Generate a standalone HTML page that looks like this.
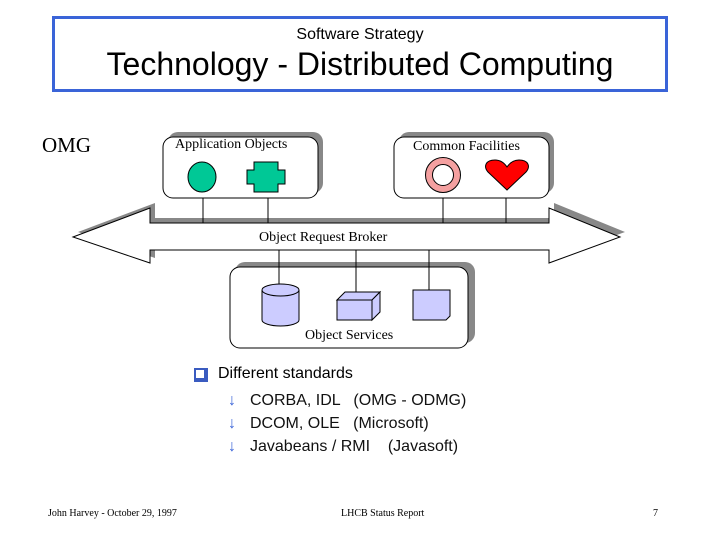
<!DOCTYPE html>
<html><head><style>
body{margin:0;width:720px;height:540px;background:#fff;position:relative;overflow:hidden;font-family:"Liberation Sans",sans-serif}
.a{position:absolute;white-space:nowrap}
.s{font-family:"Liberation Serif",serif}
</style></head><body>
<div class="a" style="left:52px;top:16px;width:610px;height:70px;border:3px solid #3a64d8"></div>
<div class="a" style="left:0;width:720px;text-align:center;top:26px;font-size:16px">Software Strategy</div>
<div class="a" style="left:0;width:720px;text-align:center;top:46px;font-size:32px">Technology - Distributed Computing</div>
<div class="a s" style="left:42px;top:133px;font-size:21px">OMG</div>
<svg class="a" style="left:0;top:0" width="720" height="540">
<g stroke="#000" stroke-width="1">
<rect x="168" y="132" width="155" height="61" rx="10" fill="#888" stroke="none"/>
<rect x="163" y="137" width="155" height="61" rx="10" fill="#fff"/>
<rect x="399" y="132" width="155" height="61" rx="10" fill="#888" stroke="none"/>
<rect x="394" y="137" width="155" height="61" rx="10" fill="#fff"/>
<polygon points="78,232 155,203 155,218 554,218 554,203 625,232 554,258 554,245 155,245 155,258" fill="#888" stroke="none"/>
<polygon points="73,237 150,208 150,223 549,223 549,208 620,237 549,263 549,250 150,250 150,263" fill="#fff"/>
<line x1="203" y1="198" x2="203" y2="223"/><line x1="268" y1="198" x2="268" y2="223"/>
<line x1="443" y1="198" x2="443" y2="223"/><line x1="506" y1="198" x2="506" y2="223"/>
<rect x="235" y="262" width="240" height="81" rx="10" fill="#888" stroke="none"/>
<rect x="230" y="267" width="238" height="81" rx="10" fill="#fff"/>
<line x1="279" y1="250" x2="279" y2="285"/><line x1="356" y1="250" x2="356" y2="294"/><line x1="429" y1="250" x2="429" y2="290"/>
<ellipse cx="202" cy="177" rx="14" ry="15" fill="#00c896"/>
<polygon points="254,162 278,162 278,170 285,170 285,184 278,184 278,192 254,192 254,184 247,184 247,170 254,170" fill="#00c896"/>
<circle cx="443" cy="175" r="14" fill="none" stroke="#f4a0a0" stroke-width="7"/>
<circle cx="443" cy="175" r="17.5" fill="none"/><circle cx="443" cy="175" r="10.5" fill="none"/>
<path d="M507,190 L488,172 C483,166 486,160 495,160 C501,160 505,164 507,167 C509,164 513,160 519,160 C528,160 531,166 526,172 Z" fill="#f00"/>
<path d="M262,290 L262,320 A18.5,6 0 0 0 299,320 L299,290" fill="#ccf"/>
<ellipse cx="280.5" cy="290" rx="18.5" ry="6" fill="#ccf"/>
<polygon points="337,300 345,292 380,292 372,300" fill="#ccf"/>
<polygon points="372,300 380,292 380,312 372,320" fill="#ccf"/>
<rect x="337" y="300" width="35" height="20" fill="#ccf"/>
<path d="M413,290 L450,290 L450,316 L446,320 L413,320 Z" fill="#ccf"/>
</g>
</svg>
<div class="a s" style="left:175px;top:137px;font-size:14px">Application Objects</div>
<div class="a s" style="left:413px;top:139px;font-size:14px">Common Facilities</div>
<div class="a s" style="left:259px;top:230px;font-size:14px">Object Request Broker</div>
<div class="a s" style="left:305px;top:328px;font-size:14px">Object Services</div>
<div class="a" style="left:194px;top:368px;width:10px;height:10px;border:2px solid #3a5bc0;box-shadow:inset -2px -2px 0 #3a5bc0"></div>
<div class="a" style="left:218px;top:365px;font-size:16px">Different standards</div>
<div class="a" style="left:228px;top:389px;font-size:16px;line-height:23px;color:#111"><span style="color:#3a64d8;display:inline-block;width:22px">↓</span>CORBA, IDL &nbsp; (OMG - ODMG)<br><span style="color:#3a64d8;display:inline-block;width:22px">↓</span>DCOM, OLE &nbsp; (Microsoft)<br><span style="color:#3a64d8;display:inline-block;width:22px">↓</span>Javabeans / RMI &nbsp;&nbsp; (Javasoft)</div>
<div class="a s" style="left:48px;top:508px;font-size:10px">John Harvey - October 29, 1997</div>
<div class="a s" style="left:341px;top:508px;font-size:10px">LHCB Status Report</div>
<div class="a s" style="left:653px;top:508px;font-size:10px">7</div>
</body></html>
